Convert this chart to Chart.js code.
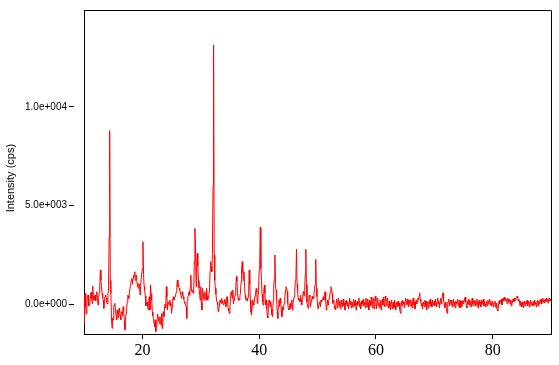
<!DOCTYPE html>
<html>
<head>
<meta charset="utf-8">
<script src="https://cdn.jsdelivr.net/npm/chart.js@4.4.1/dist/chart.umd.min.js"></script>
<style>
  html, body { margin: 0; padding: 0; background: #fff; }
  #wrap { width: 559px; height: 365px; }
</style>
</head>
<body>
<div id="wrap"><canvas id="xrd" width="559" height="365"></canvas></div>
<script>
// 2-theta scan, 0.1 deg step, one row per degree, each block starts at the given angle
const scan10 = [-980, 300, 540, -130, -500, 100, 400, 460, -100, -50,
  100, 290, 600, 300, 30, 910, 400, 200, 350, 450,
  150, 500, 630, 300, -50, 200, 550, 880, 1730, 1200,
  880, 550, 300, 200, -220, 250, 370, 460, 300, 100,
  0, 540, 700, 3400, 8800, 1200, 540, -640, -1230, -700,
  -800, -100, 0, 30, -300, -600, -800, -300, -500, -700,
  -220, -350, -600, -800, -390, -450, -600, -135, -350, -900,
  -1320, -900, -500, -220, 100, 450, 400, 290, 600, 880,
  1050, 1200, 1300, 1000, 1300, 1470, 1400, 1640, 1200, 1300,
  1470, 1000, 900, 800, 1050, 1000, 460, 880, 1300, 1300];
const scan20 = [1800, 3160, 1500, 900, 700, 400, -100, 50, 100, -100,
  -300, 200, 370, -300, 970, 500, 200, -400, -600, -730,
  -980, -1150, -800, -1400, -1100, -900, -500, -700, -850, -980,
  -640, -900, -1070, -470, -1240, -600, -390, -640, -200, 0,
  -200, 880, 370, -300, 100, 50, -50, 200, 50, -100,
  -470, -150, 200, 370, 200, 300, 370, 460, 600, 900,
  1220, 880, 960, 800, 700, 600, 500, 290, 450, 630,
  370, 250, 100, 30, -50, -135, -730, 200, 400, 460,
  630, 450, 900, 1470, 700, 630, 710, 540, 700, 2200,
  3840, 2900, 880, 1900, 2570, 1900, 1200, 800, 500, 200];
const scan30 = [880, 34, -300, 800, 500, 300, 200, 626, 400, 200,
  795, 400, 200, 370, 500, 700, 1700, 2150, 1900, 1640,
  2570, 6000, 13150, 2500, 1200, 795, 500, 203, 100, -51,
  -389, -250, -135, 203, 100, 34, 288, 150, 50, -51,
  34, 250, 100, -135, 250, 372, 34, -200, -350, -474,
  -135, 300, 626, 457, 300, 711, 0, 200, 350, 457,
  880, 1400, 1150, 600, 200, 290, 200, 400, 540, 1100,
  1800, 2150, 1600, 1200, 1640, 900, 450, 250, 200, 290,
  150, 350, 460, 1730, 1000, 200, -400, -560, -135, 200,
  0, -51, 200, 400, 600, 790, 600, 34, 290, 700];
const scan40 = [1700, 2000, 3890, 1800, 1200, 500, 100, -51, 700, 960,
  540, -51, 203, -250, -600, -700, -51, 203, 34, -135,
  119, -250, -550, -640, 119, 880, 1300, 2490, 1000, 700,
  203, -389, -730, -135, 203, -135, 290, 50, -300, -640,
  -135, -300, -135, 34, 300, 700, 880, 830, 650, 34,
  -220, -300, -135, 34, -220, -100, 203, -304, 34, 203,
  370, 600, 1200, 1300, 2780, 1000, 626, 203, 300, 250,
  119, 457, 200, -51, 300, 542, 650, 400, 700, 1500,
  2780, 1000, 100, -135, -220, 203, 457, 350, -135, 119,
  203, 400, 250, 300, 500, 800, 1000, 2270, 800, 372];
const scan50 = [0, -250, -250, 34, 119, -135, 203, 100, 203, 250,
  372, 203, 540, 626, 203, -304, -200, 200, -51, 119,
  288, 457, 626, 880, 800, 542, 34, 150, 203, -220,
  -135, -300, 100, 250, -200, 50, 300, -100, 150, -250,
  100, 200, -150, 0, 250, -100, 50, -300, 150, 0,
  200, -100, 100, -250, 50, 300, -50, 150, -200, 100,
  0, -150, 250, 50, -100, 200, -300, 0, 150, -50,
  100, 300, -150, 50, -250, 150, 0, 200, -100, 250,
  -50, 100, -200, 300, 0, -150, 250, 50, -300, 200,
  100, -100, 350, 0, -200, 150, 300, -250, 100, 400];
const scan60 = [150, -250, 100, 300, -100, 50, -200, 200, 0, -300,
  100, 250, -50, 350, 0, -150, 400, 150, -100, 200,
  300, 0, -200, 150, -100, -300, 50, 200, -250, 0,
  100, -200, 200, -50, -300, 100, 0, -150, 150, -100,
  50, -250, -470, 0, 150, -100, 200, 0, 100, -200,
  150, 300, -50, 100, 250, 0, -150, 200, 50, -100,
  200, 0, -200, 150, 300, -50, 100, -250, 50, 200,
  0, 150, 300, 200, 400, 570, 250, 100, -100, 50,
  -250, 100, 0, -150, 200, -100, 150, -300, 50, 100,
  -200, 150, 0, 250, -100, 100, -150, 200, 0, -50];
const scan70 = [150, -100, 250, 50, -150, 100, 300, 0, 150, -200,
  100, 300, 0, 250, 400, 570, 200, 0, -200, 100,
  -100, -300, -470, 0, 150, 250, -100, 100, 200, -50,
  200, -150, 50, 250, -100, 100, -200, 150, 0, 100,
  250, -100, 0, 200, -200, 50, 150, -150, 100, 200,
  0, 150, 300, 350, 100, -100, -200, 150, 0, 250,
  -50, 200, 0, -150, 100, 300, 0, -100, 200, 50,
  150, -100, 0, 250, 100, -200, 50, 200, -50, 100,
  -150, 200, 0, 100, 250, -100, 150, 0, -150, 50,
  150, -100, 200, 0, 100, 250, -50, 100, -100, 150];
const scan80 = [100, -150, 50, 0, 150, -100, -200, 50, -300, -350,
  -100, 150, 0, 200, 100, 250, -50, 200, 300, 150,
  350, 200, 300, 150, 250, 0, 300, 200, 100, 250,
  0, 200, -100, 150, 50, 250, 100, 300, 150, 250,
  300, 350, 400, 300, 150, 250, 100, -100, 150, 50,
  -150, 100, 0, -200, 150, 50, -100, 100, 0, 200,
  -100, 50, 150, -150, 0, 200, -50, 100, 0, -100,
  150, -50, 200, 0, 100, -150, 50, 200, -100, 150,
  0, 200, 100, 250, 0, 150, 300, 100, 200, 50,
  250, 100, 300, 150, 200, 50, 250, 300, 150, 200,
  250];

const blocks = [[10, scan10], [20, scan20], [30, scan30], [40, scan40],
  [50, scan50], [60, scan60], [70, scan70], [80, scan80]];
const STEP = 0.1;

const xTicks = [20, 40, 60, 80];
const yTicks = [0, 5000, 10000];

let points = [];
blocks.forEach(([start, vals]) => {
  vals.forEach((v, i) => points.push({ x: +(start + i * STEP).toFixed(1), y: v }));
});

function sci(v) {
  let parts = Number(v).toExponential(1).split('e');
  let exp = parseInt(parts[1], 10);
  return parts[0] + 'e' + (exp < 0 ? '-' : '+') + String(Math.abs(exp)).padStart(3, '0');
}

const frame = {
  id: 'frame',
  afterDraw(chart) {
    let { ctx, chartArea: a } = chart;
    ctx.save();
    ctx.strokeStyle = '#000';
    ctx.lineWidth = 1;
    ctx.beginPath();
    ctx.moveTo(a.left, a.top + 0.5);
    ctx.lineTo(a.right + 0.5, a.top + 0.5);
    ctx.lineTo(a.right + 0.5, a.bottom);
    ctx.stroke();
    ctx.restore();
  }
};

new Chart(document.getElementById('xrd'), {
  type: 'line',
  data: {
    datasets: [{
      data: points,
      borderColor: '#ff0000',
      borderWidth: 1,
      pointRadius: 0,
      tension: 0,
      fill: false
    }]
  },
  options: {
    responsive: false,
    animation: false,
    events: [],
    layout: { padding: { top: 10, right: 8, left: 0, bottom: 0 } },
    plugins: { legend: { display: false }, tooltip: { enabled: false } },
    scales: {
      x: {
        type: 'linear',
        min: 10,
        max: 90,
        afterFit: (s) => { s.height = 31; },
        afterBuildTicks: (s) => { s.ticks = xTicks.map(v => ({ value: v })); },
        border: { display: true, color: '#000', width: 1 },
        grid: { drawOnChartArea: false, drawTicks: true, tickLength: 5, tickColor: '#000', tickWidth: 1 },
        ticks: {
          color: '#000',
          padding: 2,
          maxRotation: 0,
          font: { family: '"Liberation Serif", "Times New Roman", serif', size: 16 }
        }
      },
      y: {
        min: -1520,
        max: 14920,
        afterFit: (s) => { s.width = 84; },
        afterBuildTicks: (s) => { s.ticks = yTicks.map(v => ({ value: v })); },
        border: { display: true, color: '#000', width: 1 },
        grid: {
          drawOnChartArea: false,
          drawTicks: true,
          tickLength: 15,
          tickColor: '#000',
          tickWidth: 1,
          tickBorderDash: [5, 30]
        },
        ticks: {
          color: '#000',
          padding: 2,
          font: { family: '"Liberation Sans", Arial, sans-serif', size: 10 },
          callback: (v) => sci(v)
        },
        title: {
          display: true,
          text: 'Intensity (cps)    ',
          color: '#000',
          padding: { top: 4, bottom: 0 },
          font: { family: '"Liberation Sans", Arial, sans-serif', size: 11 }
        }
      }
    }
  },
  plugins: [frame]
});
</script>
</body>
</html>
